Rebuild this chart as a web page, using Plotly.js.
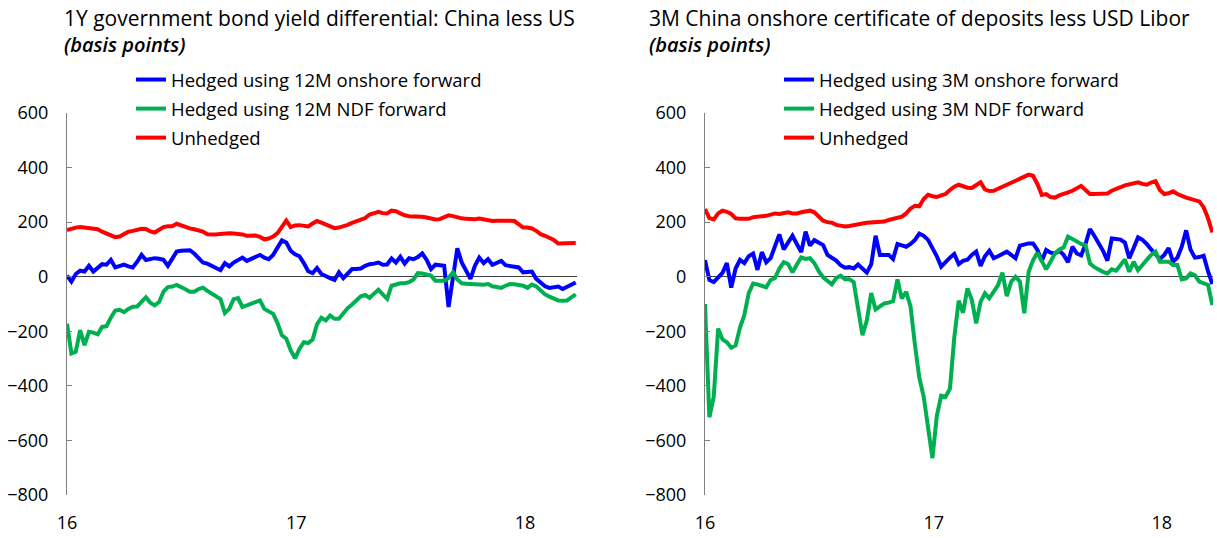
<!DOCTYPE html>
<html>
<head>
<meta charset="utf-8">
<script src="https://cdn.plot.ly/plotly-3.0.1.min.js"></script>
<style>
  html, body { margin: 0; padding: 0; background: #ffffff; }
  #chart { width: 1217px; height: 538px; }
</style>
</head>
<body>
<div id="chart"></div>
<script>
// ---------- data (weekly observations, first week of Jan 2016 to late Mar 2018) ----------
const startDate = '2016-01-01';
const nWeeks = 117;

const leftTitle = '1Y government bond yield differential: China less US';
const rightTitle = '3M China onshore certificate of deposits less USD Libor';
const unitLabel = '(basis points)';

const leftNames = ['Hedged using 12M onshore forward', 'Hedged using 12M NDF forward', 'Unhedged'];
const rightNames = ['Hedged using 3M onshore forward', 'Hedged using 3M NDF forward', 'Unhedged'];

const yTickVals = [-800, -600, -400, -200, 0, 200, 400, 600];
const xTickLabels = ['16', '17', '18'];

// Left chart: 1Y government bond yield differential
const leftOnshore = [
  4,-18,10,22,19,40,19,32,46,44,
  62,34,40,44,38,34,55,80,61,64,
  68,66,62,40,68,92,95,96,97,85,
  70,52,48,40,32,24,50,38,52,60,
  70,58,66,72,80,70,64,80,110,133,
  125,95,82,75,50,20,13,32,10,4,
  -5,-12,16,-5,10,28,28,30,40,46,
  48,52,44,45,67,52,73,48,68,64,
  72,85,62,28,44,42,40,-111,10,104,
  52,20,-8,40,70,50,64,44,52,58,
  42,40,38,34,16,18,19,-8,-20,-35,
  -41,-38,-36,-45,-38,-30,-21
];
const leftNDF = [
  -172,-281,-275,-196,-251,-202,-205,-211,-184,-181,
  -150,-124,-121,-130,-118,-110,-109,-92,-75,-95,
  -105,-93,-55,-38,-36,-30,-40,-46,-55,-55,
  -45,-40,-52,-62,-72,-82,-133,-118,-82,-78,
  -111,-104,-99,-94,-87,-118,-125,-136,-170,-215,
  -227,-269,-299,-265,-240,-243,-230,-175,-150,-160,
  -142,-154,-154,-132,-115,-102,-85,-72,-67,-78,
  -62,-48,-65,-81,-33,-28,-24,-24,-20,-10,
  13,12,8,4,-15,-15,-15,-5,16,-10,
  -24,-26,-27,-29,-30,-29,-27,-35,-38,-41,
  -33,-27,-28,-29,-33,-41,-29,-36,-50,-65,
  -73,-82,-87,-88,-87,-76,-65
];
const leftUnhedged = [
  171,176,180,182,180,179,178,174,165,158,
  150,145,147,155,165,168,172,176,175,166,
  162,170,182,185,185,194,188,180,177,174,
  171,165,156,155,155,157,159,159,158,158,
  155,150,150,151,146,137,140,147,160,185,
  206,182,188,189,186,184,195,204,198,191,
  185,178,180,184,190,197,203,208,215,228,
  234,238,233,232,242,240,232,225,222,222,
  222,220,217,214,210,211,218,225,222,217,
  214,212,210,211,213,210,206,204,205,206,
  206,205,204,192,180,180,177,168,156,150,
  143,135,122,123,125,124,124
];

// Right chart: 3M onshore CD less USD Libor
const rightOnshore = [
  61,-12,-20,-5,14,50,-40,30,62,50,
  75,85,25,90,53,68,110,155,100,125,
  150,120,90,165,114,134,124,116,80,68,
  59,42,33,35,30,45,30,15,45,150,
  80,80,80,65,120,115,110,120,135,158,
  150,135,105,75,37,55,70,83,46,58,
  62,80,92,40,75,95,68,75,85,92,
  80,68,114,118,122,122,98,58,98,88,
  85,95,80,53,110,85,78,120,175,150,
  125,95,59,140,138,136,125,68,105,144,
  135,120,100,85,65,80,105,55,70,110,
  170,100,70,72,77,20,-27
];
const rightNDF = [
  -100,-515,-440,-190,-230,-240,-260,-252,-186,-140,
  -60,-25,-28,-33,-39,-12,-5,30,53,46,
  16,45,71,65,68,50,20,-2,-15,-28,
  -5,4,-9,-9,-20,-120,-214,-160,-60,-120,
  -110,-98,-95,-90,-10,-80,-55,-110,-250,-370,
  -440,-560,-665,-510,-436,-440,-410,-222,-88,-132,
  -43,-85,-171,-92,-61,-79,-55,-31,15,-71,
  -18,0,-18,-134,18,60,88,60,27,55,
  85,100,107,147,138,131,120,116,49,35,
  25,18,12,27,22,45,63,18,55,24,
  45,62,80,92,55,55,55,43,43,-10,
  -6,12,6,-18,-25,-30,-104
];
const rightUnhedged = [
  248,215,210,232,242,238,230,214,212,211,
  212,218,221,222,223,226,232,230,232,236,
  232,232,236,240,242,236,220,205,200,198,
  190,186,184,186,190,192,195,198,199,198,
  199,202,208,211,215,220,232,250,260,258,
  285,300,295,292,298,303,318,330,337,332,
  326,325,335,346,320,314,315,322,330,338,
  346,352,360,366,374,370,340,300,303,292,
  290,298,305,309,315,324,333,318,303,303,
  303,303,305,315,320,328,335,338,344,346,
  340,337,345,350,318,303,306,313,303,295,
  290,285,280,276,255,215,162
];

// ---------- build weekly date categories ----------
function weeklyDates(start, n) {
  const out = [];
  const d0 = new Date(start + 'T00:00:00Z');
  for (let i = 0; i < n; i++) {
    const d = new Date(d0.getTime() + i * 7 * 86400000);
    out.push(d.toISOString().slice(0, 10));
  }
  return out;
}
const dates = weeklyDates(startDate, nWeeks);

// ---------- styles ----------
const BLUE = '#0000FF', GREEN = '#00B050', RED = '#FF0000';
const FONT = 'Open Sans, Noto Sans, DejaVu Sans, sans-serif';
const W = 1217, H = 538;
const px = v => v / W;
const py = v => 1 - v / H;

function trace(y, name, color, xa, ya, leg) {
  return {
    x: dates, y: y, name: name, type: 'scatter', mode: 'lines',
    line: { color: color, width: 4 },
    xaxis: xa, yaxis: ya, legend: leg, legendgroup: leg + name,
    hoverinfo: 'skip'
  };
}

const data = [
  trace(leftOnshore, leftNames[0], BLUE, 'x', 'y', 'legend'),
  trace(leftNDF, leftNames[1], GREEN, 'x', 'y', 'legend'),
  trace(leftUnhedged, leftNames[2], RED, 'x', 'y', 'legend'),
  trace(rightOnshore, rightNames[0], BLUE, 'x2', 'y2', 'legend2'),
  trace(rightNDF, rightNames[1], GREEN, 'x2', 'y2', 'legend2'),
  trace(rightUnhedged, rightNames[2], RED, 'x2', 'y2', 'legend2')
];

function xAxis(domain, endDate, anchor) {
  return {
    domain: domain, anchor: anchor, type: 'date',
    range: ['2016-01-01', endDate],
    tickmode: 'array',
    tickvals: ['2016-01-01', '2017-01-01', '2018-01-01'],
    ticktext: xTickLabels,
    showgrid: false, zeroline: false, showline: false,
    ticks: '', ticklabelstandoff: 15,
    tickfont: { family: FONT, size: 18, color: '#000000' }
  };
}
function yAxis(anchor) {
  return {
    domain: [43 / H, 425 / H], anchor: anchor,
    range: [-800, 600], tickmode: 'array', tickvals: yTickVals,
    showgrid: false, showline: true, linecolor: '#7f7f7f', linewidth: 1,
    ticks: 'inside', ticklen: 5, tickcolor: '#7f7f7f', tickwidth: 1,
    zeroline: true, zerolinecolor: '#404040', zerolinewidth: 1,
    ticklabelstandoff: 14,
    tickfont: { family: FONT, size: 18, color: '#000000' }
  };
}
function legendBox(xPx) {
  return {
    x: px(xPx), y: py(61), xanchor: 'left', yanchor: 'top',
    bgcolor: 'rgba(0,0,0,0)', borderwidth: 0,
    font: { family: FONT, size: 18.5, color: '#000000' },
    itemwidth: 30, tracegroupgap: 2, traceorder: 'grouped'
  };
}
function ann(text, xPx, yPx, unit) {
  return {
    text: unit ? '<i>' + text + '</i>' : text,
    xref: 'paper', yref: 'paper', x: px(xPx), y: py(yPx),
    xanchor: 'left', yanchor: 'middle', showarrow: false,
    font: { family: FONT, size: unit ? 20 : 21, weight: unit ? 600 : 400, color: '#000000' }
  };
}

const layout = {
  width: W, height: H,
  margin: { l: 0, r: 0, t: 0, b: 0, pad: 0 },
  paper_bgcolor: '#ffffff', plot_bgcolor: '#ffffff',
  showlegend: true,
  xaxis: xAxis([67 / W, 577 / W], '2018-03-25', 'y'),
  yaxis: yAxis('x'),
  xaxis2: xAxis([705 / W, 1213 / W], '2018-03-24', 'y2'),
  yaxis2: yAxis('x2'),
  legend: legendBox(131),
  legend2: legendBox(779),
  annotations: [
    ann(leftTitle, 62, 18, false),
    ann(unitLabel, 62, 45, true),
    ann(rightTitle, 647, 18, false),
    ann(unitLabel, 647, 45, true)
  ]
};

Plotly.newPlot('chart', data, layout, { staticPlot: true, displayModeBar: false });
</script>
</body>
</html>
